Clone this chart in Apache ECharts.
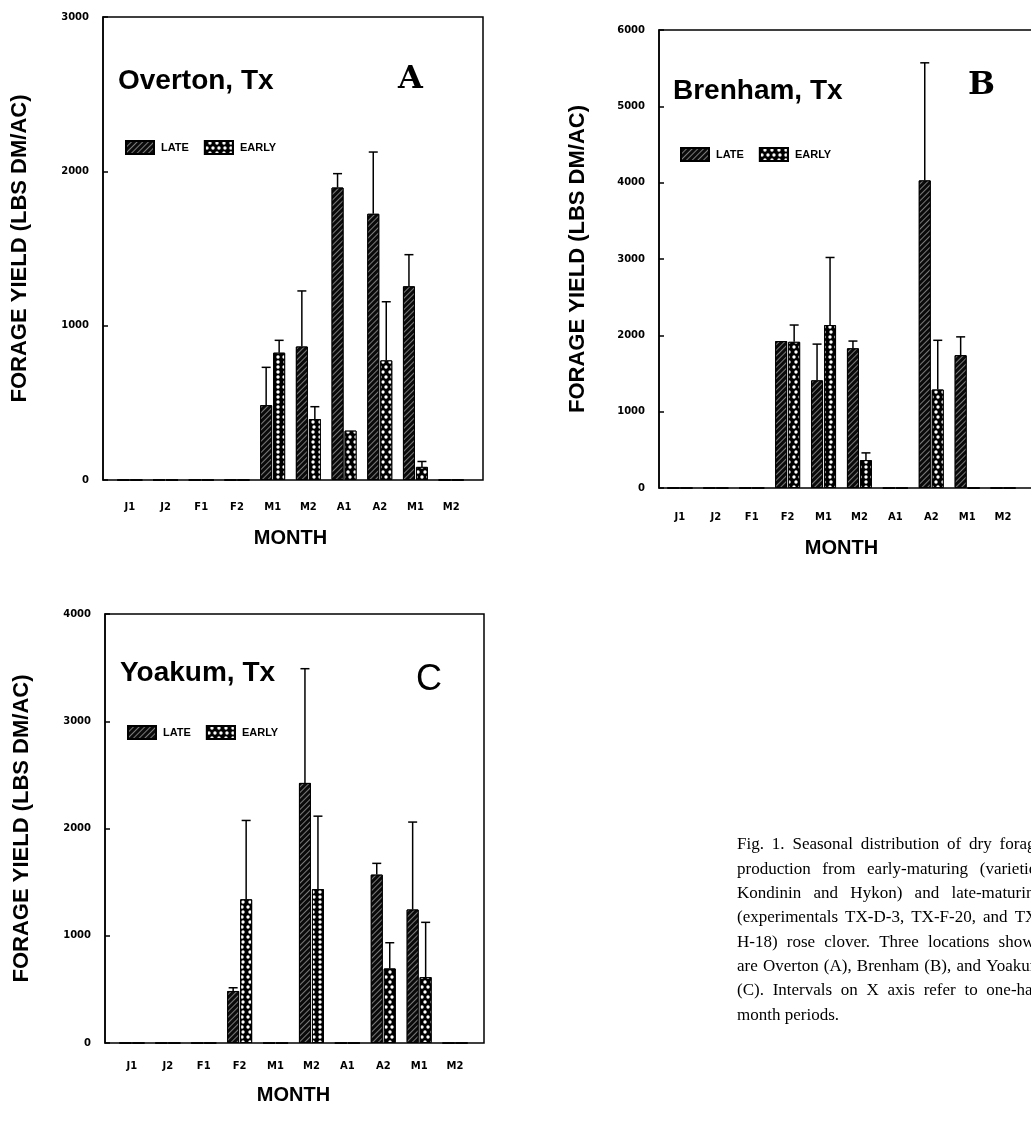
<!DOCTYPE html>
<html><head><meta charset="utf-8">
<script src="https://cdn.jsdelivr.net/npm/echarts@6/dist/echarts.min.js"></script>
<style>html,body{margin:0;padding:0;background:#fff}#c{width:1031px;height:1137px}</style>
</head><body><div id="c"></div>
<script>
// ---------- DATA ----------
const months = ['J1','J2','F1','F2','M1','M2','A1','A2','M1','M2'];
const seriesNames = ['LATE','EARLY'];

// Panel A - Overton
const ticksA = [0,1000,2000,3000];
const lateA     = [0,0,0,0,485,865,1895,1725,1255,0];
const lateUpA   = [null,null,null,null,730,1225,1985,2125,1460,null];
const earlyA    = [0,0,0,0,825,395,320,775,85,0];
const earlyUpA  = [null,null,null,null,905,475,null,1155,120,null];

// Panel B - Brenham
const ticksB = [0,1000,2000,3000,4000,5000,6000];
const lateB     = [0,0,0,1925,1410,1830,0,4030,1740,0];
const lateUpB   = [null,null,null,null,1885,1925,null,5570,1980,null];
const earlyB    = [0,0,0,1915,2135,365,0,1290,0,0];
const earlyUpB  = [null,null,null,2135,3020,460,null,1935,null,null];

// Panel C - Yoakum
const ticksC = [0,1000,2000,3000,4000];
const lateC     = [0,0,0,485,0,2425,0,1570,1245,0];
const lateUpC   = [null,null,null,515,null,3490,null,1675,2060,null];
const earlyC    = [0,0,0,1340,0,1435,0,695,615,0];
const earlyUpC  = [null,null,null,2075,null,2115,null,935,1125,null];

const titles = ['Overton, Tx','Brenham, Tx','Yoakum, Tx'];
const letters = ['A','B','C'];
const yTitle = 'FORAGE YIELD (LBS DM/AC)';
const xTitle = 'MONTH';

const captionLines = [
  'Fig. 1.  Seasonal distribution of dry forage',
  'production from early-maturing (varieties',
  'Kondinin and Hykon) and late-maturing',
  '(experimentals TX-D-3, TX-F-20, and TX-',
  'H-18) rose clover.  Three locations shown',
  'are Overton (A), Brenham (B), and Yoakum',
  '(C).  Intervals on X axis refer to one-half',
  'month periods.'
];

// ---------- LAYOUT / STYLE ----------
const BAR_W = 12, GAP = 1, CAP = 9;
const panels = [
  {ticks:ticksA, late:lateA, lateUp:lateUpA, early:earlyA, earlyUp:earlyUpA,
   frame:{x:103,y:17,w:380,h:463}, gridLeft:112, gridW:357, offset:9,
   labelMargin:22, nameGap:48, yNameGap:72,
   title:{x:118,y:67}, letter:{x:398,y:64,font:'bold 32px "DejaVu Serif"'}, legend:{x:125,y:140}},
  {ticks:ticksB, late:lateB, lateUp:lateUpB, early:earlyB, earlyUp:earlyUpB,
   frame:{x:659,y:30,w:380,h:458}, gridLeft:662, gridW:359, offset:3,
   labelMargin:24, nameGap:50, yNameGap:70,
   title:{x:673,y:77}, letter:{x:968,y:70,font:'bold 32px "DejaVu Serif"'}, legend:{x:680,y:147}},
  {ticks:ticksC, late:lateC, lateUp:lateUpC, early:earlyC, earlyUp:earlyUpC,
   frame:{x:105,y:614,w:379,h:429}, gridLeft:114, gridW:359, offset:9,
   labelMargin:18, nameGap:42, yNameGap:72,
   title:{x:120,y:659}, letter:{x:416,y:662,font:'normal 36px "Liberation Sans"'}, legend:{x:127,y:725}}
];

const lateStyle = {
  color:'#0a0a0a', borderColor:'#000', borderWidth:1,
  decal:{symbol:'rect', color:'rgba(170,170,170,0.7)', dashArrayX:[1,0], dashArrayY:[1,3], rotation:-Math.PI/4}
};
const earlyStyle = {
  color:'#000', borderColor:'#000', borderWidth:1,
  decal:{symbol:'circle', color:'#fff', symbolSize:0.85, dashArrayX:[[4,2],[0,3,4,0]], dashArrayY:[4,1]}
};

function errRender(side){
  return function(params, api){
    const i = api.value(0), v = api.value(1), up = api.value(2);
    if (up == null || isNaN(up) || up <= v) return;
    const c = api.coord([i, v]); const t = api.coord([i, up]);
    const x = c[0] + side * (BAR_W + GAP) / 2;
    return {type:'group', children:[
      {type:'line', shape:{x1:x,y1:c[1],x2:x,y2:t[1]}, style:{stroke:'#000', lineWidth:1.5}},
      {type:'line', shape:{x1:x-CAP/2,y1:t[1],x2:x+CAP/2,y2:t[1]}, style:{stroke:'#000', lineWidth:1.5}}
    ]};
  };
}
function errData(vals, ups){
  const out = [];
  ups.forEach((u, i) => { if (u != null) out.push([i, vals[i], u]); });
  return out;
}

const grid = [], xAxis = [], yAxis = [], series = [], title = [], legend = [], graphic = [];
panels.forEach((p, k) => {
  const f = p.frame;
  grid.push({left:p.gridLeft, top:f.y, width:p.gridW, height:f.h, containLabel:false, outerBoundsMode:'none'});
  xAxis.push({type:'category', gridIndex:k, data:months,
    axisLine:{show:false}, axisTick:{show:false},
    axisLabel:{margin:p.labelMargin, color:'#000', fontSize:10, fontWeight:'bold', fontFamily:'DejaVu Sans', interval:0},
    name:xTitle, nameLocation:'middle', nameGap:p.nameGap,
    nameTextStyle:{color:'#000', fontSize:20, fontWeight:'bold', fontFamily:'Liberation Sans'}});
  const tk = p.ticks;
  yAxis.push({type:'value', gridIndex:k, min:tk[0], max:tk[tk.length-1], interval:tk[1]-tk[0], offset:p.offset,
    axisLine:{show:true, lineStyle:{color:'#000', width:1.5}},
    axisTick:{show:true, inside:true, length:5, lineStyle:{color:'#000', width:1.5}},
    splitLine:{show:false},
    axisLabel:{margin:14, color:'#000', fontSize:10, fontWeight:'bold', fontFamily:'DejaVu Sans', formatter:v => String(v)},
    name:yTitle, nameLocation:'middle', nameGap:p.yNameGap, nameRotate:90,
    nameTextStyle:{color:'#000', fontSize:22, fontWeight:'bold', fontFamily:'Liberation Sans'}});
  series.push({name:'LATE', type:'bar', xAxisIndex:k, yAxisIndex:k, data:p.late, barWidth:BAR_W, barGap:(GAP/BAR_W*100)+'%', itemStyle:lateStyle, z:2});
  series.push({name:'EARLY', type:'bar', xAxisIndex:k, yAxisIndex:k, data:p.early, barWidth:BAR_W, itemStyle:earlyStyle, z:2});
  series.push({type:'custom', xAxisIndex:k, yAxisIndex:k, data:errData(p.late, p.lateUp), renderItem:errRender(-1), z:3, silent:true});
  series.push({type:'custom', xAxisIndex:k, yAxisIndex:k, data:errData(p.early, p.earlyUp), renderItem:errRender(1), z:3, silent:true});
  title.push({text:titles[k], left:p.title.x, top:p.title.y, padding:0,
    textStyle:{color:'#000', fontSize:28, fontWeight:'bold', fontFamily:'Liberation Sans'}});
  graphic.push({type:'text', x:p.letter.x, y:p.letter.y, style:{text:letters[k], font:p.letter.font, fill:'#000'}});
  legend.push({data:seriesNames, left:p.legend.x, top:p.legend.y, padding:0, icon:'rect',
    itemWidth:28, itemHeight:13, itemGap:15, selectedMode:false,
    textStyle:{color:'#000', fontSize:11, fontWeight:'bold', fontFamily:'Liberation Sans', padding:[0,0,0,2]}});
  graphic.push({type:'rect', shape:{x:f.x, y:f.y, width:f.w, height:f.h}, style:{fill:'none', stroke:'#000', lineWidth:1.5}, z:10, silent:true});
});

// caption (justified)
const capX = 737, capRight = 1043, capTop = 845, capLH = 24.3;
const capFont = '17px "Liberation Serif"';
const ctx = document.createElement('canvas').getContext('2d');
ctx.font = capFont;
captionLines.forEach((line, li) => {
  const words = line.split(/\s+/);
  const lastLine = li === captionLines.length - 1;
  const widths = words.map(w => ctx.measureText(w).width);
  const total = widths.reduce((a, b) => a + b, 0);
  const gap = lastLine ? ctx.measureText(' ').width : (capRight - capX - total) / (words.length - 1);
  let x = capX;
  words.forEach((w, j) => {
    graphic.push({type:'text', x:x, y:capTop + li * capLH, style:{text:w, font:capFont, fill:'#000', verticalAlign:'middle'}});
    x += widths[j] + gap;
  });
});

const chart = echarts.init(document.getElementById('c'), null, {renderer:'canvas'});
chart.setOption({
  animation:false, backgroundColor:'#fff',
  grid, xAxis, yAxis, series, title, legend, graphic
});
</script></body></html>
